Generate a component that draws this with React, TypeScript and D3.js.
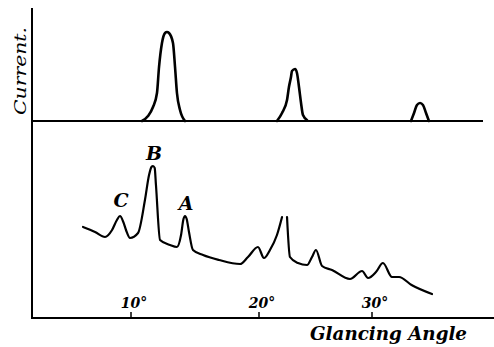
import React from "react";
import * as d3 from "d3";

const tickAngles = [10, 20, 30];
const tickLabels = ["10°", "20°", "30°"];

// upper trace: three peaks (angle, current)
const upperPeak1Angle = [10.86, 11.33, 11.72, 12.03, 12.19, 12.42, 12.66, 12.81, 12.97, 13.28, 13.44, 13.59, 13.83, 14.22];
const upperPeak1Value = [0, 5, 14, 28, 54, 78, 88, 89, 88, 78, 54, 28, 11, 0];
const upperPeak2Angle = [21.59, 22.04, 22.48, 22.65, 22.83, 22.92, 23.19, 23.36, 23.54, 23.72, 23.89, 24.25];
const upperPeak2Value = [0, 8, 21, 34, 44, 50, 52, 48, 34, 18, 6, 1];
const upperPeak3Angle = [33.45, 33.72, 33.98, 34.25, 34.51, 34.78, 35.04];
const upperPeak3Value = [0, 8, 16, 18, 16, 8, 0];

// lower trace (angle, current); null = break in the drawn line
const lowerAngle = [6.25, 7.19, 7.97, 8.52, 8.9, 9.14, 9.4, 9.61, 9.92, 10.55, 11.09, 11.41, 11.6, 11.72, 11.85, 11.95, 12.27, 13.05, 13.59, 13.91, 14.1, 14.22, 14.35, 14.53, 14.84, 15.63, 16.88, 18.52, 19.14, 19.92, 20.44, 20.97, 21.59, 22.04, 22.26, 22.48, 22.74, 23.45, 24.25, 24.69, 25.04, 25.58, 26.46, 28.05, 29.12, 29.65, 30.35, 30.97, 31.77, 32.39, 33.5, 35.31];
const lowerValue: (number | null)[] = [91, 86, 81, 88, 98, 102, 96, 88, 80, 85, 118, 143, 151, 152, 150, 133, 78, 73, 71, 83, 99, 102, 99, 86, 68, 63, 58, 54, 61, 71, 60, 68, 83, 101, null, 101, 61, 55, 53, 61, 68, 52, 48, 39, 47, 40, 46, 55, 41, 41, 33, 24];

const peakLetters = ["C", "B", "A"];
const peakLetterAngle = [9.14, 11.72, 14.22];
const peakLetterValue = [111, 158, 108];

const W = 494;
const H = 347;

export default function App() {
  const x = d3.scaleLinear().domain([10, 20, 30]).range([131, 259, 372]);
  const yUp = d3.scaleLinear().domain([0, 100]).range([121, 21]);
  const yLo = d3.scaleLinear().domain([0, 200]).range([318, 118]);

  const upLine = d3
    .line<[number, number]>()
    .x((d) => x(d[0]))
    .y((d) => yUp(d[1]))
    .curve(d3.curveMonotoneX);

  const loLine = d3
    .line<[number, number | null]>()
    .defined((d) => d[1] !== null)
    .x((d) => x(d[0]))
    .y((d) => yLo(d[1] as number))
    .curve(d3.curveMonotoneX);

  const peaks = [
    d3.zip(upperPeak1Angle, upperPeak1Value),
    d3.zip(upperPeak2Angle, upperPeak2Value),
    d3.zip(upperPeak3Angle, upperPeak3Value),
  ] as [number, number][][];

  const lower = lowerAngle.map((a, i) => [a, lowerValue[i]] as [number, number | null]);

  const serif = "'DejaVu Serif', 'Liberation Serif', serif";

  return (
    <svg
      width={W}
      height={H}
      style={{ position: "absolute", left: 0, top: 0, background: "#fff" }}
    >
      {/* axes */}
      <line x1={32} y1={8} x2={32} y2={319} stroke="#000" strokeWidth={2} />
      <line x1={31} y1={318} x2={494} y2={318} stroke="#000" strokeWidth={2} />
      <line x1={32} y1={121} x2={483} y2={121} stroke="#000" strokeWidth={2} />

      {/* ticks */}
      {tickAngles.map((t, i) => (
        <g key={t}>
          <line x1={x(t)} y1={312} x2={x(t)} y2={318} stroke="#000" strokeWidth={1.5} />
          <text
            x={x(t) + 3}
            y={308}
            textAnchor="middle"
            fontFamily={serif}
            fontStyle="italic"
            fontWeight="bold"
            fontSize={14}
          >
            {tickLabels[i]}
          </text>
        </g>
      ))}

      {/* upper peaks */}
      {peaks.map((p, i) => (
        <path key={i} d={upLine(p) || ""} fill="none" stroke="#000" strokeWidth={2.6} strokeLinejoin="round" strokeLinecap="round" />
      ))}

      {/* lower trace */}
      <path d={loLine(lower) || ""} fill="none" stroke="#000" strokeWidth={2.2} strokeLinejoin="round" strokeLinecap="round" />

      {/* peak letters */}
      {peakLetters.map((l, i) => (
        <text
          key={l}
          x={x(peakLetterAngle[i]) + 1}
          y={yLo(peakLetterValue[i])}
          textAnchor="middle"
          fontFamily={serif}
          fontStyle="italic"
          fontWeight="bold"
          fontSize={19}
        >
          {l}
        </text>
      ))}

      {/* axis titles */}
      <text
        transform="translate(26,71) rotate(-90)"
        textAnchor="middle"
        fontFamily={serif}
        fontStyle="italic"
        fontSize={17}
        textLength={88}
        lengthAdjust="spacingAndGlyphs"
      >
        Current.
      </text>
      <text
        x={310}
        y={340}
        fontFamily={serif}
        fontStyle="italic"
        fontWeight="bold"
        fontSize={19}
        textLength={157}
        lengthAdjust="spacingAndGlyphs"
      >
        Glancing Angle
      </text>
    </svg>
  );
}
